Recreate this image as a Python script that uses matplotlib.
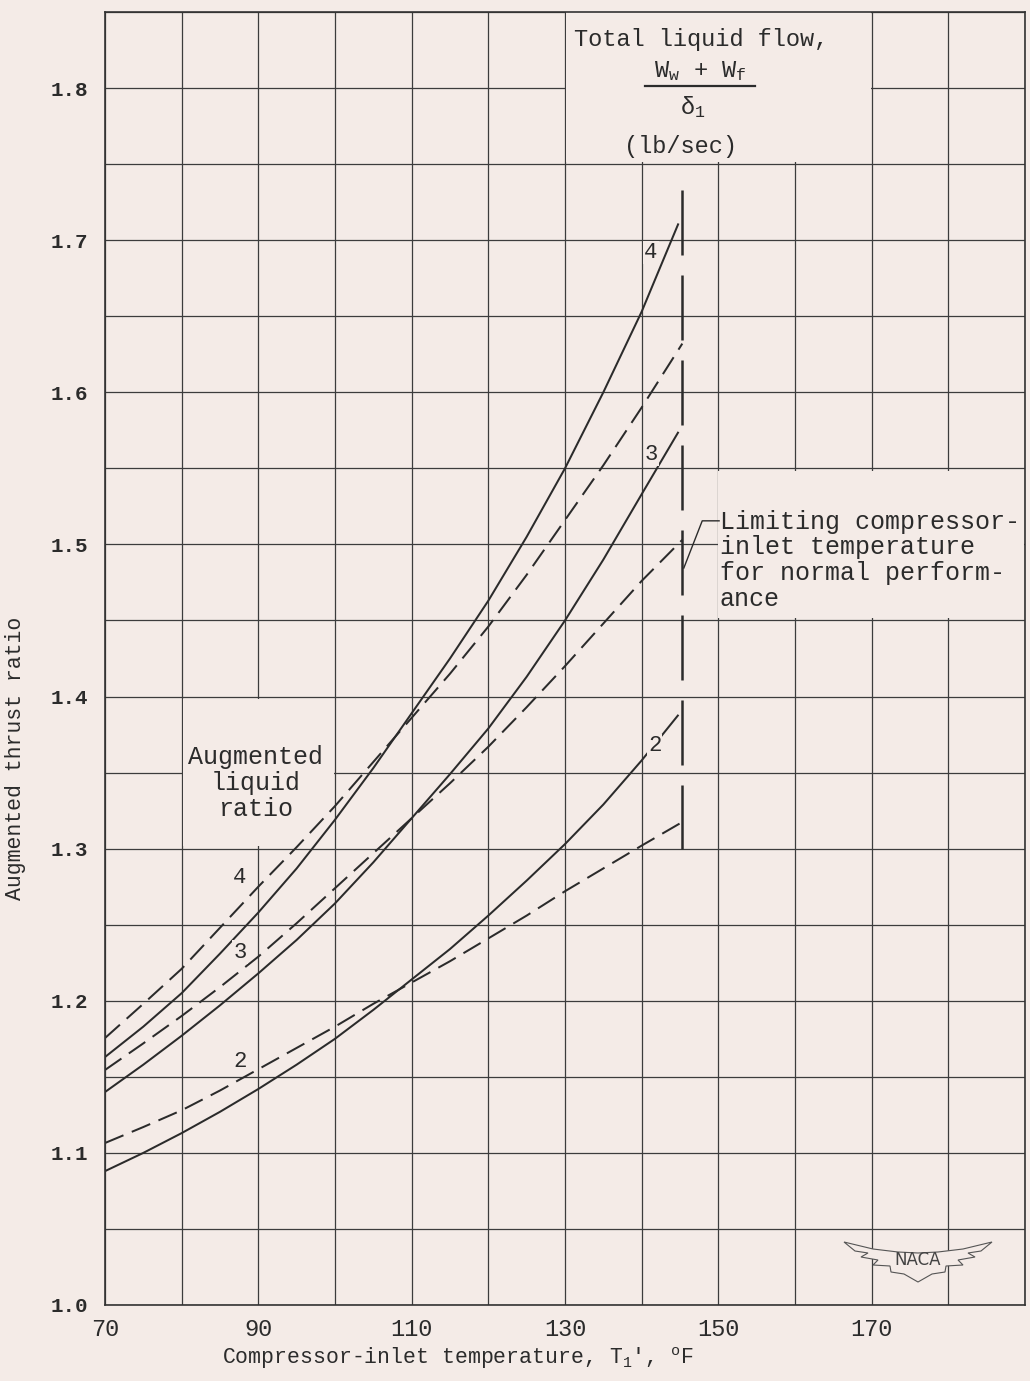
import numpy as np
import matplotlib
matplotlib.use('Agg')
import matplotlib.pyplot as plt
from matplotlib.patches import Rectangle, Polygon

plt.rcParams['font.family'] = ['Liberation Mono', 'DejaVu Sans Mono']
plt.rcParams['mathtext.default'] = 'regular'

paper = '#f4ebe7'
ink = '#2b2b2b'
grid_ink = '#3c3c3c'

# compressor-inlet temperature, deg F
temps = [70, 75, 80, 85, 90, 95, 100, 105, 110, 115, 120, 125, 130, 135, 140]

# solid curves: total liquid flow (Ww + Wf)/delta1, lb/sec
flow_4 = [1.163, 1.183, 1.205, 1.231, 1.258, 1.287, 1.319, 1.353, 1.389, 1.425, 1.463, 1.505, 1.550, 1.600, 1.653, 1.711]
flow_3 = [1.140, 1.158, 1.177, 1.197, 1.218, 1.240, 1.264, 1.291, 1.320, 1.349, 1.379, 1.413, 1.450, 1.490, 1.533, 1.574]
flow_2 = [1.088, 1.100, 1.113, 1.127, 1.142, 1.158, 1.175, 1.194, 1.214, 1.234, 1.256, 1.279, 1.303, 1.329, 1.358, 1.388]
flow_end = 144.8

# dashed curves: augmented liquid ratio
ratio_4 = [1.1755, 1.198, 1.221, 1.248, 1.275, 1.301, 1.328, 1.357, 1.386, 1.415, 1.446, 1.480, 1.516, 1.552, 1.590, 1.632]
ratio_3 = [1.1545, 1.172, 1.190, 1.209, 1.229, 1.251, 1.274, 1.297, 1.320, 1.343, 1.367, 1.393, 1.420, 1.448, 1.476, 1.503]
ratio_2 = [1.1065, 1.117, 1.128, 1.141, 1.155, 1.169, 1.183, 1.198, 1.212, 1.226, 1.241, 1.256, 1.272, 1.287, 1.302, 1.3175]
ratio_end = 145.3

# limiting compressor-inlet temperature
limit_temp = 145.3
limit_range = [1.733, 1.300]

xticks = [70, 90, 110, 130, 150, 170]
yticks = [1.0, 1.1, 1.2, 1.3, 1.4, 1.5, 1.6, 1.7, 1.8]

fig = plt.figure(figsize=(10.30, 13.81), dpi=100, facecolor=paper)
ax = fig.add_axes([105/1030, 76/1381, 920/1030, 1293/1381], facecolor=paper)
ax.set_xlim(70, 190)
ax.set_ylim(1.0, 1.85)

ax.set_xticks(np.arange(70, 191, 10), minor=True)
ax.set_yticks(np.arange(1.0, 1.851, 0.05), minor=True)
ax.set_xticks(xticks)
ax.set_yticks(yticks)
ax.set_xticklabels([str(t) for t in xticks])
ax.set_yticklabels([f'{v:.1f}' for v in yticks], fontweight='bold')
ax.tick_params(which='both', length=0)
ax.tick_params(axis='x', pad=9, labelsize=17, colors=ink)
ax.tick_params(axis='y', pad=12, labelsize=15, colors=ink)
ax.set_axisbelow(True)
ax.grid(which='both', color=grid_ink, lw=0.9)
for s in ax.spines.values():
    s.set_color('#333333')
    s.set_linewidth(1.2)

# blank patches where the lettering sits on the grid
for x0, y0, w, h in [(130.15, 1.7515, 39.7, 0.1), (149.9, 1.4515, 39.95, 0.097), (80.15, 1.3015, 19.7, 0.097)]:
    ax.add_patch(Rectangle((x0, y0), w, h, facecolor=paper, edgecolor='none', zorder=1))

lw = 1.45
dash = (20*0.72/lw, 9*0.72/lw)
t_flow = temps + [flow_end]
t_ratio = temps + [ratio_end]
for ys in [flow_4, flow_3, flow_2]:
    ax.plot(t_flow, ys, color=ink, lw=lw, solid_capstyle='butt', solid_joinstyle='round', zorder=2)
for ys in [ratio_4, ratio_3, ratio_2]:
    ax.plot(t_ratio, ys, color=ink, lw=lw, dashes=dash, dash_capstyle='butt', zorder=2)

llw = 1.8
ax.plot([limit_temp, limit_temp], limit_range, color=ink, lw=llw,
        dashes=(65*0.72/llw, 20*0.72/llw), dash_capstyle='butt', zorder=2)

lab = dict(fontsize=16, color=ink, ha='center', va='center', zorder=3,
           bbox=dict(boxstyle='square,pad=0.05', fc=paper, ec='none'))
for t, r, s in [(141.2, 1.692, '4'), (141.3, 1.559, '3'), (141.7, 1.368, '2'),
                (87.6, 1.281, '4'), (87.6, 1.232, '3'), (87.6, 1.160, '2')]:
    ax.text(t, r, s, **lab)

# header of the flow curves
hdr = dict(fontsize=17, color=ink, ha='center', va='center', zorder=3)
ax.text(147.7, 1.8317, 'Total liquid flow,', **hdr)
ax.text(147.6, 1.8115, r'W$_w$ + W$_f$', **hdr)
ax.plot([140.4, 154.8], [1.8014, 1.8014], color=ink, lw=1.6, zorder=3)
ax.text(146.6, 1.7876, r'δ$_1$', **hdr)
ax.text(145.0, 1.7613, '(lb/sec)', **hdr)

ax.text(89.6, 1.343, 'Augmented\nliquid\nratio', fontsize=18, color=ink,
        ha='center', va='center', linespacing=1.1)

ax.text(150.2, 1.4895, 'Limiting compressor-\ninlet temperature\nfor normal perform-\nance',
        fontsize=18, color=ink, ha='left', va='center', linespacing=1.1, zorder=3)
ax.plot([145.5, 147.9, 150.1], [1.4845, 1.5155, 1.5155], color=ink, lw=1.0, zorder=3)

ax.text(0.127, -0.031, r"Compressor-inlet temperature, T$_1$', $^o$F",
        transform=ax.transAxes, fontsize=15.5, color=ink, ha='left', va='top')
ax.text(-0.0978, (1305 - 900)/1293, 'Augmented thrust ratio', transform=ax.transAxes,
        rotation=90, fontsize=15.5, color=ink, ha='center', va='bottom')

# NACA wing badge
cx, cy = (918 - 105)/920, (1305 - 1262)/1293
half = [(0, -9), (20, -10), (45, -13), (74, -20), (63, -11), (50, -9), (57, -5),
        (40, -2), (45, 3), (28, 4), (27, 10), (14, 12), (0, 20)]
pts = half + [(-dx, dy) for dx, dy in half[::-1]]
pts = [(cx + dx/920, cy - dy/1293) for dx, dy in pts]
ax.add_patch(Polygon(pts, closed=True, fill=True, fc=paper, ec='#555555', lw=0.8,
                     transform=ax.transAxes, zorder=3))
ax.text(cx, cy + 2/1293, 'NACA', transform=ax.transAxes, fontsize=12, family='DejaVu Sans',
        color='#444444', ha='center', va='center', zorder=4)

fig.savefig('out.png', dpi=100, facecolor=paper)
